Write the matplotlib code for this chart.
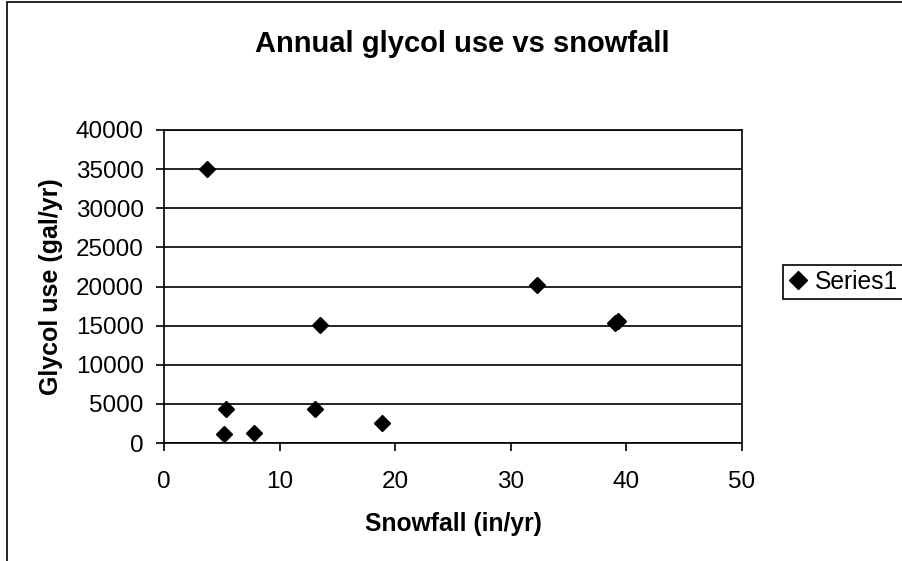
import matplotlib.pyplot as plt
from matplotlib.patches import Rectangle

# data
snowfall = [3.7, 5.4, 5.2, 7.8, 13.1, 13.5, 18.9, 32.3, 39.0, 39.3]
glycol_use = [35000, 4400, 1100, 1300, 4400, 15100, 2500, 20200, 15300, 15600]
series_name = "Series1"
x_ticks = [0, 10, 20, 30, 40, 50]
y_ticks = [0, 5000, 10000, 15000, 20000, 25000, 30000, 35000, 40000]

plt.rcParams['font.family'] = ['Liberation Sans', 'DejaVu Sans']

W, H = 903, 561
fig = plt.figure(figsize=(W / 100, H / 100), dpi=100)

# outer chart frame (right and bottom edges fall outside the picture)
fig.patches.append(Rectangle((7 / W, -0.02), 1.05, 1 - 2 / H + 0.02,
                             transform=fig.transFigure, fill=False,
                             edgecolor='black', linewidth=1.2))

ax = fig.add_axes([164 / W, 1 - 443 / H, 578 / W, 313 / H])
ax.plot(snowfall, glycol_use, linestyle='none', marker='D', markersize=8.5,
        color='black', label=series_name, zorder=3)

ax.set_xlim(0, 50)
ax.set_ylim(0, 40000)
ax.set_xticks(x_ticks)
ax.set_yticks(y_ticks)
ax.grid(axis='y', color='black', linewidth=1.2)
ax.set_axisbelow(True)
for sp in ax.spines.values():
    sp.set_linewidth(1.2)
ax.tick_params(direction='out', length=5.5, width=1.2, labelsize=17.5)
ax.tick_params(axis='y', pad=9)
ax.tick_params(axis='x', pad=15)

ax.set_xlabel("Snowfall (in/yr)", fontsize=17.7, fontweight='bold')
ax.xaxis.set_label_coords(0.5, -(524 - 443) / 313)
ax.set_ylabel("Glycol use (gal/yr)", fontsize=18, fontweight='bold')
ax.yaxis.set_label_coords(-(164 - 51) / 578, 0.5)
ax.xaxis.label.set_va('center')
ax.yaxis.label.set_va('center')

fig.text(462 / W, 1 - 52 / H, "Annual glycol use vs snowfall", ha='center',
         va='baseline', fontsize=21, fontweight='bold')

leg = fig.legend(loc='upper left', bbox_to_anchor=(783 / W, 1 - 265 / H),
                 frameon=True, fancybox=False, edgecolor='black', framealpha=1,
                 fontsize=17.7, handlelength=0.8, handletextpad=0.3,
                 borderaxespad=0, borderpad=0.2, markerscale=1.05)
leg.get_frame().set_linewidth(1.2)

plt.savefig("out.png", dpi=100)
